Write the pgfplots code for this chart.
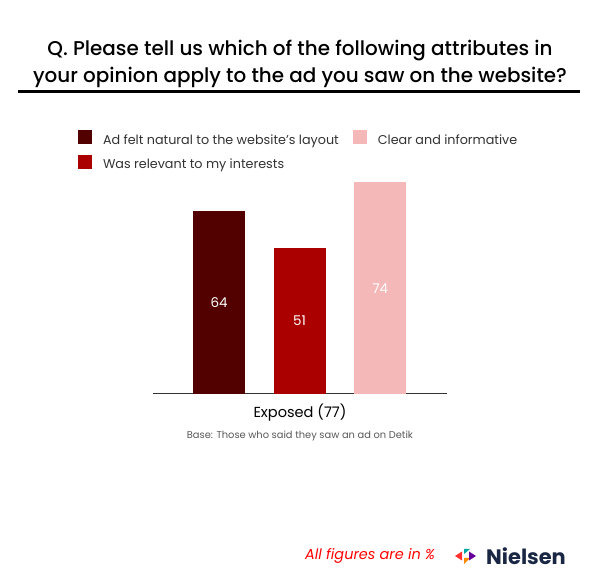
\documentclass[border=0pt]{standalone}
\usepackage{fontspec}
\setmainfont{Poppins}
\newfontfamily\titlefont{Poppins Medium}
\usepackage{pgfplots}
\pgfplotsset{compat=1.18}
\definecolor{cdark}{HTML}{520000}
\definecolor{cred}{HTML}{AB0000}
\definecolor{cpink}{HTML}{F4B8B8}
\definecolor{ctxt}{HTML}{333333}
\definecolor{cnavy}{HTML}{1A2744}
\begin{document}
\begin{tikzpicture}[x=1bp,y=1bp]
\fill[white] (0,0) rectangle (600,588);
\path[use as bounding box] (0,0) rectangle (600,588);
% title
\node[anchor=base, font=\titlefont\fontsize{20}{24}\selectfont] at (300,532) {Q. Please tell us which of the following attributes in};
\node[anchor=base, font=\titlefont\fontsize{20}{24}\selectfont] at (300,505) {your opinion apply to the ad you saw on the website?};
\draw[line width=3bp] (18,496) -- (580,496);
\begin{axis}[
  at={(153bp,194bp)}, anchor=south west,
  scale only axis, width=294bp, height=228.8bp,
  xmin=0.18, xmax=3.83, ymin=0, ymax=80,
  axis x line*=bottom, axis y line=none,
  x axis line style={-, draw=black!80, line width=1bp},
  xtick=\empty, ytick=\empty,
  clip=false,
  /pgf/number format/assume math mode=true,
  legend columns=2,
  legend cell align=left,
  legend style={at={(-0.2551,1.154)}, anchor=north west, draw=none, fill=none,
    inner sep=0pt, outer sep=0pt, row sep=9bp,
    font=\fontsize{12.8}{14}\selectfont\color{ctxt},
    nodes={inner sep=0pt},
    /tikz/every odd column/.append style={column sep=11bp},
    /tikz/every even column/.append style={column sep=14bp}},
  legend image code/.code={\fill[#1] (0bp,-3.9bp) rectangle (14bp,10.1bp);},
  nodes near coords,
  every node near coord/.append style={white, anchor=center, font=\fontsize{13.5}{15}\selectfont},
]
\addplot[ybar, bar width=52bp, fill=cdark, draw=none,
  every node near coord/.append style={yshift=-91.5bp}] coordinates {(1,64)};
\addlegendentry{Ad felt natural to the website’s layout}
\addplot[ybar, bar width=52bp, fill=cpink, draw=none,
  every node near coord/.append style={yshift=-105.8bp}] coordinates {(3,74)};
\addlegendentry{Clear and informative}
\addplot[ybar, bar width=52bp, fill=cred, draw=none,
  every node near coord/.append style={yshift=-72.9bp}] coordinates {(2,51)};
\addlegendentry{Was relevant to my interests}
\end{axis}
\node[font=\fontsize{14.6}{17}\selectfont] at (300,175) {Exposed (77)};
\node[font=\fontsize{9.9}{12}\selectfont, text=black!65] at (300,152) {Base: Those who said they saw an ad on Detik};
\node[font=\fontsize{14.5}{17}\selectfont\itshape, text=red] at (370,32) {All figures are in \%};
% logo
\fill[red!75!pink] (455,32) -- (462,36.5) -- (462,27.5) -- cycle;
\fill[teal!70!cyan] (464,39) -- (470,39) -- (464,34) -- cycle;
\fill[orange!90!yellow] (464,30) -- (470,30) -- (464,24) -- cycle;
\fill[violet!80!blue] (476,32) -- (469,36.5) -- (469,27.5) -- cycle;
\node[font=\fontsize{21}{24}\selectfont\bfseries, text=cnavy, anchor=west, inner sep=0pt] at (486,32) {Nielsen};
\end{tikzpicture}
\end{document}
